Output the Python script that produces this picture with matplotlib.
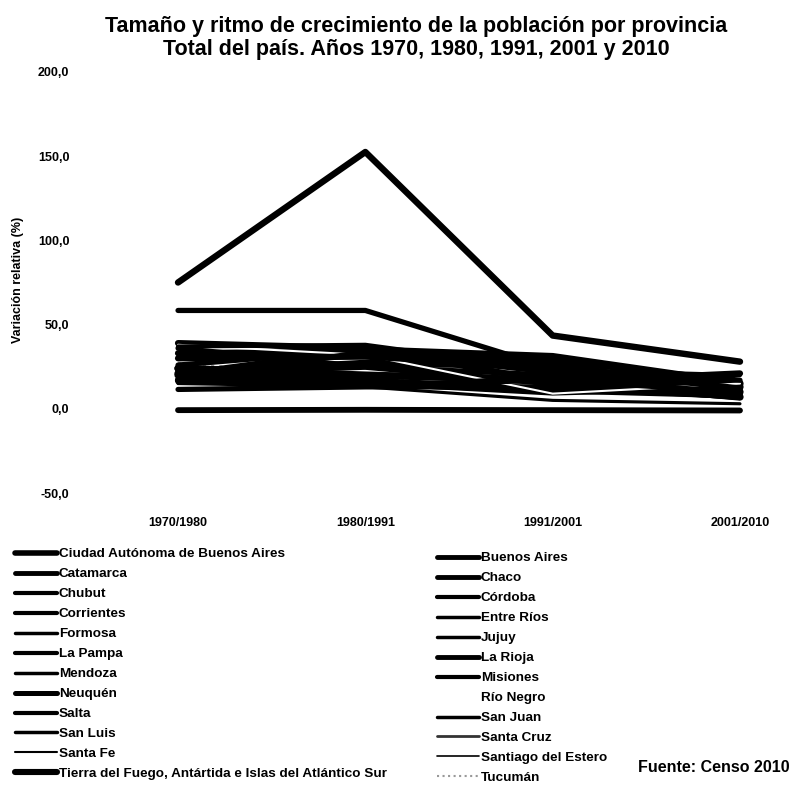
import matplotlib

matplotlib.use("Agg")
import matplotlib.pyplot as plt
from matplotlib.lines import Line2D

plt.rcParams["font.family"] = ["Liberation Sans", "DejaVu Sans"]

# datos (variación relativa intercensal, %)
periodos = ["1970/1980", "1980/1991", "1991/2001", "2001/2010"]
provincias = [
    "Ciudad Autónoma de Buenos Aires", "Buenos Aires", "Catamarca", "Chaco",
    "Chubut", "Córdoba", "Corrientes", "Entre Ríos", "Formosa", "Jujuy",
    "La Pampa", "La Rioja", "Mendoza", "Misiones", "Neuquén", "Río Negro",
    "Salta", "San Juan", "San Luis", "Santa Cruz", "Santa Fe",
    "Santiago del Estero", "Tierra del Fuego, Antártida e Islas del Atlántico Sur",
    "Tucumán",
]
valores = [
    [-0.8, -0.6, -0.8, -1.0],
    [24.0, 16.0, 10.0, 13.0],
    [21.0, 27.0, 26.0, 10.0],
    [24.0, 20.0, 17.0, 7.0],
    [39.0, 36.0, 16.0, 21.0],
    [17.0, 15.0, 11.0, 8.0],
    [17.0, 20.0, 17.0, 7.0],
    [11.5, 13.0, 13.0, 7.0],
    [26.0, 35.0, 22.0, 9.0],
    [36.0, 25.0, 20.0, 10.0],
    [21.0, 25.0, 15.0, 7.0],
    [20.0, 35.0, 31.0, 15.0],
    [24.0, 17.0, 12.0, 10.0],
    [33.0, 34.0, 22.0, 14.0],
    [58.4, 58.4, 24.0, 16.0],
    [38.0, 32.0, 9.0, 15.0],
    [30.0, 31.0, 25.0, 12.0],
    [21.0, 14.0, 17.0, 10.0],
    [16.0, 34.0, 28.0, 17.0],
    [37.0, 38.0, 23.0, 20.0],
    [15.0, 13.0, 5.0, 3.0],
    [20.0, 13.0, 20.0, 9.0],
    [75.0, 152.5, 43.5, 28.0],
    [27.0, 18.0, 18.0, 8.0],
]

# estilo de cada línea (ancho en la leyenda, color, estilo)
anchos = [4, 3.5, 3.5, 3.5, 3, 3, 3, 2.5, 2.5, 2.5, 3, 3.5, 2.5, 3, 3.6, 2,
          3, 2.5, 2.5, 2, 1.5, 1.2, 4.4, 1.5]
colores = ["black"] * 24
colores[15] = "white"
colores[19] = "#333333"
colores[23] = "#999999"
estilos = ["-"] * 24
estilos[23] = ":"

fig = plt.figure(figsize=(8.04, 7.95), dpi=100)
ax = fig.add_axes([75 / 804, (795 - 493) / 795, 715 / 804, 421 / 795])

x = list(range(len(periodos)))
orden = [23] + list(range(23))  # Tucumán queda debajo
for i in orden:
    lw = anchos[i] * 1.5 if i not in (14, 22, 0) else anchos[i] * 1.05
    if i == 15:
        lw = 1.5
    c = "black" if i == 19 else colores[i]
    ax.plot(x, valores[i], color=c, lw=lw, ls=estilos[i],
            solid_capstyle="round", solid_joinstyle="round")

ax.set_xlim(-0.55, 3.267)
ax.set_ylim(-50, 200)
ax.set_xticks(x)
ax.set_xticklabels(periodos, fontsize=9, fontweight="bold")
ticks_y = [-50, 0, 50, 100, 150, 200]
ax.set_yticks(ticks_y)
ax.set_yticklabels([f"{t:.1f}".replace(".", ",") for t in ticks_y],
                   fontsize=9, fontweight="bold")
ax.tick_params(axis="both", length=0)
ax.tick_params(axis="x", pad=17)
ax.tick_params(axis="y", pad=4)
for s in ax.spines.values():
    s.set_visible(False)

fig.text(18 / 804, 1 - 280 / 795, "Variación relativa (%)", rotation=90,
         ha="center", va="center", fontsize=9, fontweight="bold")

fig.text(416 / 804, 1 - 38 / 795,
         "Tamaño y ritmo de crecimiento de la población por provincia\n"
         "Total del país. Años 1970, 1980, 1991, 2001 y 2010",
         ha="center", va="center", fontsize=15.5, fontweight="bold",
         linespacing=1.08)

proxies = [Line2D([], [], color=c, lw=lw, ls=ls, solid_capstyle="round")
           for lw, c, ls in zip(anchos, colores, estilos)]
izq = list(range(0, 24, 2))
der = list(range(1, 24, 2))
kw = dict(frameon=False, handlelength=3.1, handletextpad=0.15,
          labelspacing=0.56, borderpad=0, borderaxespad=0, loc="upper left",
          prop={"weight": "bold", "size": 9.7})
fig.legend([proxies[i] for i in izq], [provincias[i] for i in izq],
           bbox_to_anchor=(15 / 804, 1 - 548 / 795), **kw)
fig.legend([proxies[i] for i in der], [provincias[i] for i in der],
           bbox_to_anchor=(437 / 804, 1 - 552 / 795), **kw)

fig.text(790 / 804, 1 - 768 / 795, "Fuente: Censo 2010", ha="right",
         va="center", fontsize=11.5, fontweight="bold")

fig.savefig("out.png", dpi=100)
plt.close(fig)
